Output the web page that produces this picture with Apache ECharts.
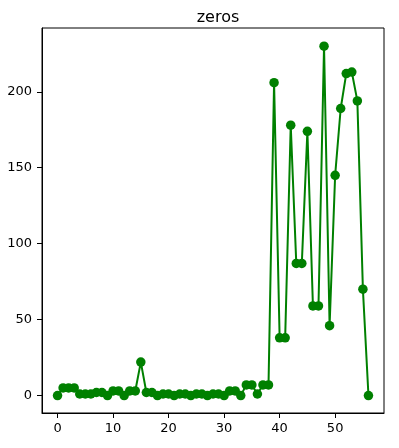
<!DOCTYPE html>
<html>
<head>
<meta charset="utf-8">
<script src="https://cdn.jsdelivr.net/npm/echarts@6/dist/echarts.min.js"></script>
<style>html,body{margin:0;padding:0;background:#fff}#c{width:399px;height:448px}</style>
</head>
<body>
<div id="c"></div>
<script>
const chartTitle = "zeros";
const xIndex = [0,1,2,3,4,5,6,7,8,9,10,11,12,13,14,15,16,17,18,19,20,21,22,23,24,25,26,27,28,29,30,31,32,33,34,35,36,37,38,39,40,41,42,43,44,45,46,47,48,49,50,51,52,53,54,55,56];
const zeros = [0,5,5,5,1,1,1,2,2,0,3,3,0,3,3,22,2,2,0,1,1,0,1,1,0,1,1,0,1,1,0,3,3,0,7,7,1,7,7,206,38,38,178,87,87,174,59,59,230,46,145,189,212,213,194,70,0];
const xTicks = [0,10,20,30,40,50];
const yTicks = [0,50,100,150,200];

const chart = echarts.init(document.getElementById('c'));
const font = 'DejaVu Sans';
chart.setOption({
  animation: false,
  title: {
    text: chartTitle, left: 213, top: 5, textAlign: 'center',
    textStyle: {fontFamily: font, fontSize: 16, fontWeight: 'normal', color: '#000'}
  },
  grid: {left: 42, right: 15, top: 28, bottom: 35, show: true, borderColor: '#000', borderWidth: 1, backgroundColor: 'transparent'},
  xAxis: {
    type: 'value', min: -2.8, max: 58.8,
    splitLine: {show: false},
    axisLine: {show: true, onZero: false, lineStyle: {color: '#000', width: 1}},
    axisTick: {show: true, length: 5, lineStyle: {color: '#000'}, customValues: xTicks},
    axisLabel: {margin: 9, fontFamily: font, fontSize: 13, color: '#000', customValues: xTicks}
  },
  yAxis: {
    type: 'value', min: -11.5, max: 242,
    splitLine: {show: false},
    axisLine: {show: true, onZero: false, lineStyle: {color: '#000', width: 1}},
    axisTick: {show: true, length: 5, lineStyle: {color: '#000'}, customValues: yTicks},
    axisLabel: {margin: 10, fontFamily: font, fontSize: 13, color: '#000', customValues: yTicks}
  },
  series: [{
    type: 'line',
    data: xIndex.map((x, i) => [x, zeros[i]]),
    symbol: 'circle', symbolSize: 9.5, showAllSymbol: true,
    lineStyle: {color: '#008000', width: 2},
    itemStyle: {color: '#008000'}
  }]
});
</script>
</body>
</html>
